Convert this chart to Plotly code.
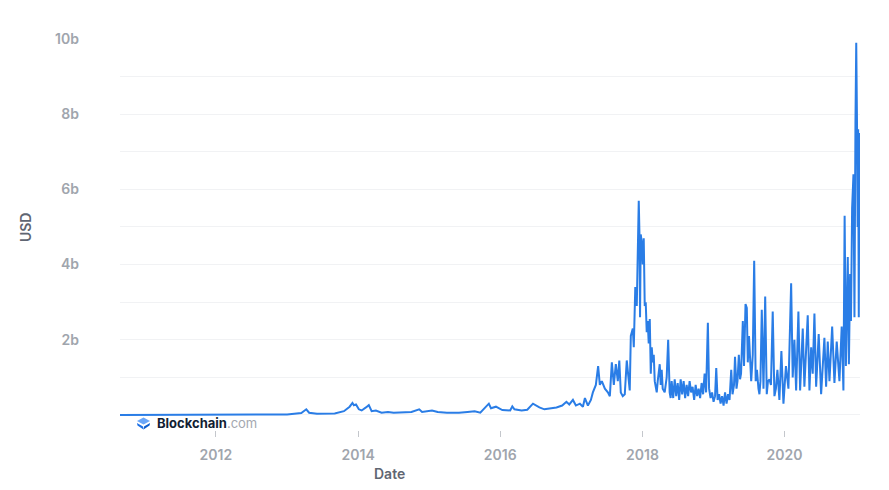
import pandas as pd
import plotly.graph_objects as go

# Decimal-year positions and trade volume (billions USD)
years = [
    2010.65, 2011.0, 2011.45, 2011.7, 2012.0, 2012.6, 2013.0, 2013.2, 2013.27, 2013.31,
    2013.42, 2013.67, 2013.8, 2013.88, 2013.92, 2013.94, 2013.97, 2014.01, 2014.05, 2014.11,
    2014.15, 2014.19, 2014.25, 2014.33, 2014.42, 2014.5, 2014.62, 2014.75, 2014.86, 2014.9,
    2015.04, 2015.12, 2015.25, 2015.42, 2015.54, 2015.64, 2015.72, 2015.84, 2015.87, 2015.94,
    2016.03, 2016.14, 2016.17, 2016.2, 2016.3, 2016.38, 2016.46, 2016.5, 2016.55, 2016.62,
    2016.7, 2016.79, 2016.87, 2016.93, 2016.97,
    2017.021, 2017.063, 2017.119, 2017.162, 2017.19, 2017.232, 2017.274, 2017.302, 2017.344, 2017.376,
    2017.4, 2017.428, 2017.471, 2017.513, 2017.541, 2017.569, 2017.597, 2017.625, 2017.653, 2017.674,
    2017.695, 2017.723, 2017.751, 2017.779, 2017.821, 2017.836, 2017.864, 2017.878, 2017.899, 2017.92,
    2017.934, 2017.948, 2017.959, 2017.966, 2017.976, 2017.99, 2018.004, 2018.018, 2018.032, 2018.046,
    2018.06, 2018.074, 2018.088, 2018.103, 2018.117, 2018.131, 2018.145, 2018.159, 2018.173, 2018.187,
    2018.201, 2018.215, 2018.243, 2018.257, 2018.271, 2018.285, 2018.313, 2018.341, 2018.362, 2018.383,
    2018.397, 2018.411, 2018.433, 2018.454, 2018.475, 2018.496, 2018.517, 2018.538, 2018.559, 2018.58,
    2018.601, 2018.622, 2018.643, 2018.664, 2018.685, 2018.706, 2018.728, 2018.749, 2018.77, 2018.791,
    2018.812, 2018.833, 2018.854, 2018.875, 2018.896, 2018.921, 2018.938, 2018.959, 2018.98, 2019.001,
    2019.022, 2019.039, 2019.058, 2019.079, 2019.1, 2019.121, 2019.142, 2019.163, 2019.184, 2019.205,
    2019.226, 2019.25, 2019.268, 2019.289, 2019.303, 2019.324, 2019.338, 2019.357, 2019.374, 2019.388,
    2019.413, 2019.43, 2019.451, 2019.469, 2019.483, 2019.5, 2019.531, 2019.553, 2019.573, 2019.594,
    2019.612, 2019.633, 2019.647, 2019.661, 2019.68, 2019.704, 2019.728, 2019.75, 2019.767, 2019.788,
    2019.809, 2019.834, 2019.858, 2019.879, 2019.9, 2019.928, 2019.956, 2019.985, 2020.02, 2020.055,
    2020.093, 2020.115, 2020.139, 2020.163, 2020.195, 2020.219, 2020.256, 2020.279, 2020.326, 2020.35,
    2020.374, 2020.396, 2020.42, 2020.444, 2020.48, 2020.514, 2020.56, 2020.584, 2020.607, 2020.631,
    2020.669, 2020.701, 2020.733, 2020.771, 2020.803, 2020.827, 2020.844, 2020.862, 2020.888, 2020.904,
    2020.921, 2020.933, 2020.949, 2020.968, 2020.982, 2020.996, 2021.007, 2021.018, 2021.027, 2021.034,
    2021.043, 2021.051, 2021.058,
]
volume_b = [
    0.001, 0.002, 0.01, 0.005, 0.005, 0.01, 0.015, 0.05, 0.15, 0.06,
    0.03, 0.04, 0.1, 0.22, 0.32, 0.26, 0.28, 0.15, 0.12, 0.2,
    0.26, 0.1, 0.12, 0.06, 0.08, 0.06, 0.07, 0.08, 0.15, 0.08,
    0.12, 0.08, 0.06, 0.06, 0.08, 0.1, 0.06, 0.3, 0.18, 0.22,
    0.13, 0.12, 0.23, 0.15, 0.12, 0.14, 0.3, 0.25, 0.2, 0.15,
    0.17, 0.2, 0.25, 0.35, 0.28,
    0.4, 0.25, 0.3, 0.22, 0.45, 0.25, 0.4, 0.6, 0.8, 1.3,
    0.8, 0.9, 0.7, 0.6, 0.5, 1.4, 0.8, 1.35, 0.9, 1.45,
    0.6, 0.5, 0.55, 1.45, 0.65, 2.1, 2.3, 1.8, 3.4, 2.9,
    4.0, 5.7, 4.7, 2.6, 4.8, 4.6, 4.0, 4.7, 2.9, 3.0,
    2.2, 2.5, 1.9, 2.55, 1.1, 1.8, 1.4, 1.6, 0.9, 0.7,
    0.6, 0.9, 1.35, 0.8, 1.2, 0.7, 0.6, 1.0, 2.0, 0.6,
    0.45, 0.9, 0.45, 0.95, 0.5, 0.85, 0.4, 0.95, 0.55, 0.9,
    0.45, 0.8, 0.5, 0.9, 0.6, 0.75, 0.4, 0.8, 0.5, 0.7,
    0.45, 0.85, 0.55, 1.1, 0.6, 2.45, 0.7, 0.45, 0.6, 0.35,
    0.5, 1.25, 0.4, 0.55, 0.3, 0.5, 0.25, 0.6, 0.3, 0.55,
    0.4, 1.2, 0.55, 0.8, 1.55, 0.7, 0.9, 1.6, 0.95, 1.1,
    2.5, 1.3, 2.95, 2.85, 1.4, 2.1, 0.9, 1.6, 4.1, 0.9,
    1.2, 0.7, 0.55, 0.9, 2.8, 0.7, 3.15, 0.55, 0.9, 0.95,
    0.8, 2.75, 0.5, 0.7, 1.2, 0.4, 1.7, 0.3, 1.3, 0.7,
    3.5, 1.0, 2.0, 0.65, 2.75, 0.65, 2.3, 0.75, 2.65, 0.65,
    1.8, 1.1, 2.7, 0.75, 2.15, 0.55, 2.05, 0.75, 1.95, 0.9,
    2.35, 0.85, 1.95, 0.9, 2.35, 0.65, 5.3, 1.3, 4.2, 1.35,
    3.75, 2.5, 5.5, 6.4, 2.6, 7.75, 9.9, 7.7, 5.0, 7.6,
    2.6, 7.5, 7.3,
]

x_tick_years = [2012, 2014, 2016, 2018, 2020]
y_tick_vals = [0, 1, 2, 3, 4, 5, 6, 7, 8, 9, 10]
y_tick_text = ["", "", "2b", "", "4b", "", "6b", "", "8b", "", "10b"]


def frac_year(y):
    yr = int(y)
    start = pd.Timestamp(year=yr, month=1, day=1)
    end = pd.Timestamp(year=yr + 1, month=1, day=1)
    return start + (end - start) * (y - yr)


dates = [frac_year(v) for v in years]

fig = go.Figure()
fig.add_trace(go.Scatter(
    x=dates, y=volume_b, mode="lines",
    line=dict(color="#2a7de6", width=2),
    hoverinfo="skip", showlegend=False,
))

tick_font = dict(family="Inter, Roboto, sans-serif", size=14, color="#a0a5ad", weight=600)

# page body adds an 8px offset, so the figure is 8px smaller and shifted margins
fig.update_layout(
    width=881, height=482,
    margin=dict(l=112, r=29, t=31, b=60),
    paper_bgcolor="white", plot_bgcolor="white",
    xaxis=dict(
        type="date",
        range=[frac_year(2010.65), frac_year(2021.06)],
        tickvals=[frac_year(v) for v in x_tick_years],
        ticktext=[str(v) for v in x_tick_years],
        showgrid=False, zeroline=False, showline=False,
        ticks="outside", ticklen=6, tickwidth=1, tickcolor="#c4c7cc",
        ticklabelstandoff=6,
        tickfont=tick_font,
    ),
    yaxis=dict(
        range=[-0.4, 10],
        tickvals=y_tick_vals, ticktext=y_tick_text,
        showgrid=True, gridcolor="#f1f2f4", gridwidth=1,
        zeroline=False, showline=False, ticks="",
        ticklabelstandoff=40,
        tickfont=tick_font,
    ),
    font=dict(family="Inter, Roboto, sans-serif"),
)

# Axis titles
fig.add_annotation(
    text="Date", xref="paper", yref="paper", x=0.3642, y=-0.11,
    xanchor="center", yanchor="middle", showarrow=False,
    font=dict(family="Inter, Roboto, sans-serif", size=14, color="#5f6672", weight=600),
)
fig.add_annotation(
    text="USD", xref="paper", yref="paper", x=-0.1284, y=0.519,
    xanchor="center", yanchor="middle", showarrow=False, textangle=-90,
    font=dict(family="Inter, Roboto, sans-serif", size=14, color="#5f6672", weight=600),
)

# Blockchain.com watermark
fig.add_annotation(
    text="<b>Blockchain</b><span style='color:#a4a8b0'>.com</span>",
    xref="paper", yref="paper", x=0.0473, y=0.0179,
    xanchor="left", yanchor="middle", showarrow=False,
    font=dict(family="Inter, Roboto, sans-serif", size=13, color="#121d33"),
)
fig.add_shape(type="path", xref="paper", yref="paper",
              path="M0.02297,0.02302 L0.03176,0.03197 L0.04054,0.02302 L0.03176,0.01407 Z",
              fillcolor="#6aa6f8", line=dict(width=0))
fig.add_shape(type="path", xref="paper", yref="paper",
              path="M0.02297,0.0179 L0.03108,0.00895 L0.03176,0.00128 L0.02365,0.01151 Z",
              fillcolor="#1b6fe6", line=dict(width=0))
fig.add_shape(type="path", xref="paper", yref="paper",
              path="M0.04054,0.0179 L0.03243,0.00895 L0.03176,0.00128 L0.03986,0.01151 Z",
              fillcolor="#0c5ccc", line=dict(width=0))

fig.write_html("out.html")
